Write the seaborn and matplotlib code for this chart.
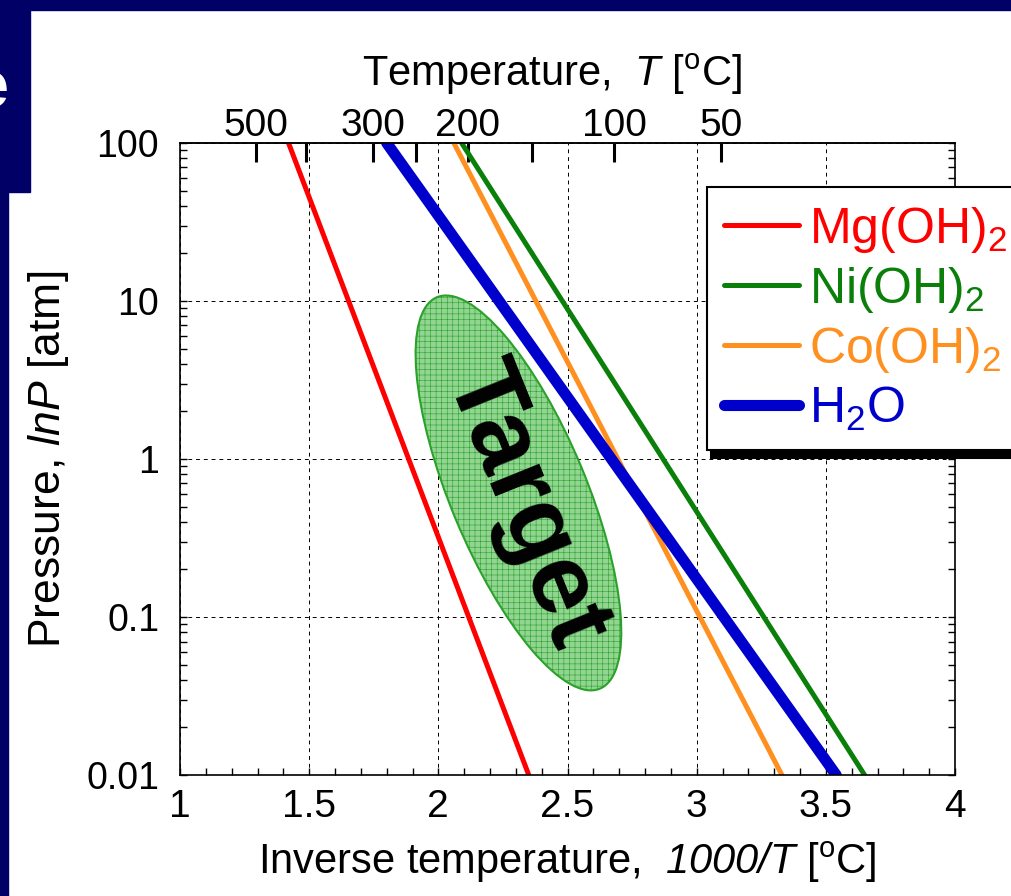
import numpy as np
import pandas as pd
import matplotlib
matplotlib.use('Agg')
import matplotlib.pyplot as plt
import seaborn as sns
from matplotlib.patches import Ellipse, Rectangle
from matplotlib.transforms import Affine2D, ScaledTranslation
from matplotlib.ticker import MultipleLocator, LogLocator, NullFormatter

# 读图得到的数据: 每条线在 P=100 和 P=0.01 atm 处的 1000/T
compounds = ['Mg(OH)$_2$', 'Ni(OH)$_2$', 'Co(OH)$_2$', 'H$_2$O']
inv_T_at_100 = [1.42, 2.09, 2.06, 1.80]
inv_T_at_001 = [2.35, 3.65, 3.33, 3.54]
P_ends = [100, 0.01]

x_ticks = [1, 1.5, 2, 2.5, 3, 3.5, 4]
x_labels = ['1', '1.5', '2', '2.5', '3', '3.5', '4']
y_ticks = [0.01, 0.1, 1, 10, 100]
y_labels = ['0.01', '0.1', '1', '10', '100']
temps = [500, 400, 300, 250, 200, 150, 100, 50]
temp_labels = ['500', '', '300', '', '200', '', '100', '50']

# 目标区域 (椭圆中心)
target_x, target_P = 2.31, 0.61

colors = ['#ff0000', '#0a800a', '#ff9020', '#0000cc']
widths = [3.6, 3.6, 3.6, 8.0]

rows = []
for name, a, b in zip(compounds, inv_T_at_100, inv_T_at_001):
    rows.append((name, a, P_ends[0]))
    rows.append((name, b, P_ends[1]))
df = pd.DataFrame(rows, columns=['compound', 'inv_T', 'P'])

sns.set_theme(style='ticks')
plt.rcParams['font.family'] = ['Liberation Sans', 'DejaVu Sans']
plt.rcParams['mathtext.fontset'] = 'custom'
plt.rcParams['mathtext.rm'] = 'Liberation Sans'
plt.rcParams['mathtext.it'] = 'Liberation Sans:italic'
plt.rcParams['mathtext.sf'] = 'Liberation Sans:italic'
plt.rcParams['mathtext.bf'] = 'Liberation Sans:bold'
plt.rcParams['hatch.linewidth'] = 0.4
for k in ['text.color', 'axes.labelcolor', 'xtick.color', 'ytick.color']:
    plt.rcParams[k] = 'black'

fig = plt.figure(figsize=(10.12, 8.96), dpi=100)
ax = fig.add_axes([0.1779, 0.135, 0.7658, 0.7054])

for name, c, lw in zip(compounds, colors, widths):
    sns.lineplot(data=df[df.compound == name], x='inv_T', y='P', color=c,
                 linewidth=lw, label=name, ax=ax, sort=False, estimator=None)

ax.set_yscale('log')
ax.set_xlim(1, 4)
ax.set_ylim(0.01, 100)
ax.set_xticks(x_ticks, x_labels)
ax.set_yticks(y_ticks, y_labels)
ax.xaxis.set_minor_locator(MultipleLocator(0.1))
ax.yaxis.set_minor_locator(LogLocator(base=10, subs=range(2, 10)))
ax.yaxis.set_minor_formatter(NullFormatter())
ax.tick_params(which='both', direction='in', top=False, right=True,
               length=5, width=1, color='black')
ax.tick_params(axis='x', labelsize=28, pad=10)
ax.tick_params(axis='y', labelsize=27, pad=15)
ax.grid(which='major', color='black', linestyle=(0, (4, 4)), linewidth=0.7)
for s in ax.spines.values():
    s.set_color('black')
    s.set_linewidth(1.2)

ax.set_xlabel('Inverse temperature,  $\\mathsf{1000/T}$ [$^{\\mathrm{o}}$C]',
              fontsize=30, labelpad=11)
ax.set_ylabel('Pressure, $\\mathsf{lnP}$ [atm]', fontsize=32, labelpad=11)


def inv2t(x):
    x = np.asarray(x, dtype=float)
    with np.errstate(divide='ignore'):
        return 1000.0 / x - 273.0


def t2inv(t):
    t = np.asarray(t, dtype=float)
    with np.errstate(divide='ignore'):
        return 1000.0 / (t + 273.0)


secax = ax.secondary_xaxis('top', functions=(inv2t, t2inv))
secax.set_xticks(temps, temp_labels)
secax.tick_params(direction='in', length=14, width=2.2, labelsize=28, pad=-1,
                  color='black')
secax.spines['top'].set_linewidth(1.2)
secax.set_xlabel('Temperature,  $\\mathsf{T}$ [$^{\\mathrm{o}}$C]',
                 fontsize=30, labelpad=16)
secax.xaxis.label.set_x(0.48)

# 目标区域椭圆 (像素单位, 平移到数据坐标)
ell = Ellipse((0, 0), width=136, height=424, angle=22.6,
              facecolor='#92d492', edgecolor='#2aa22a', hatch='+++',
              linewidth=1.5, zorder=1,
              transform=Affine2D() + ScaledTranslation(target_x, target_P, ax.transData))
ax.add_patch(ell)
ax.text(2.335, 0.51, 'Target', rotation=-68, ha='center', va='center',
        rotation_mode='anchor', fontsize=72, fontweight='bold', color='black',
        zorder=5)

leg = ax.legend(loc='upper left', bbox_to_anchor=(707 / 1012, 1 - 187 / 896),
                bbox_transform=fig.transFigure, borderaxespad=0, frameon=True,
                fancybox=False, framealpha=1, edgecolor='black',
                shadow={'color': 'black', 'alpha': 1, 'ox': 3, 'oy': -6},
                fontsize=36, handlelength=1.5, handletextpad=0.2,
                labelspacing=0.2, borderpad=0.35, labelcolor='linecolor')
leg.get_frame().set_linewidth(1.5)

# 幻灯片边框
navy = '#000066'
fig.add_artist(Rectangle((0, 1 - 10 / 896), 1, 10 / 896, transform=fig.transFigure,
                         color=navy, zorder=10))
fig.add_artist(Rectangle((0, 1 - 192 / 896), 30 / 1012, 192 / 896,
                         transform=fig.transFigure, color=navy, zorder=10))
fig.add_artist(Rectangle((0, 0), 8 / 1012, 1, transform=fig.transFigure,
                         color=navy, zorder=10))
fig.text(8 / 1012, 1 - 107 / 896, 'e', ha='right', va='baseline', color='white',
         fontsize=48, fontweight='bold', zorder=11)

fig.savefig('out.png', dpi=100)
